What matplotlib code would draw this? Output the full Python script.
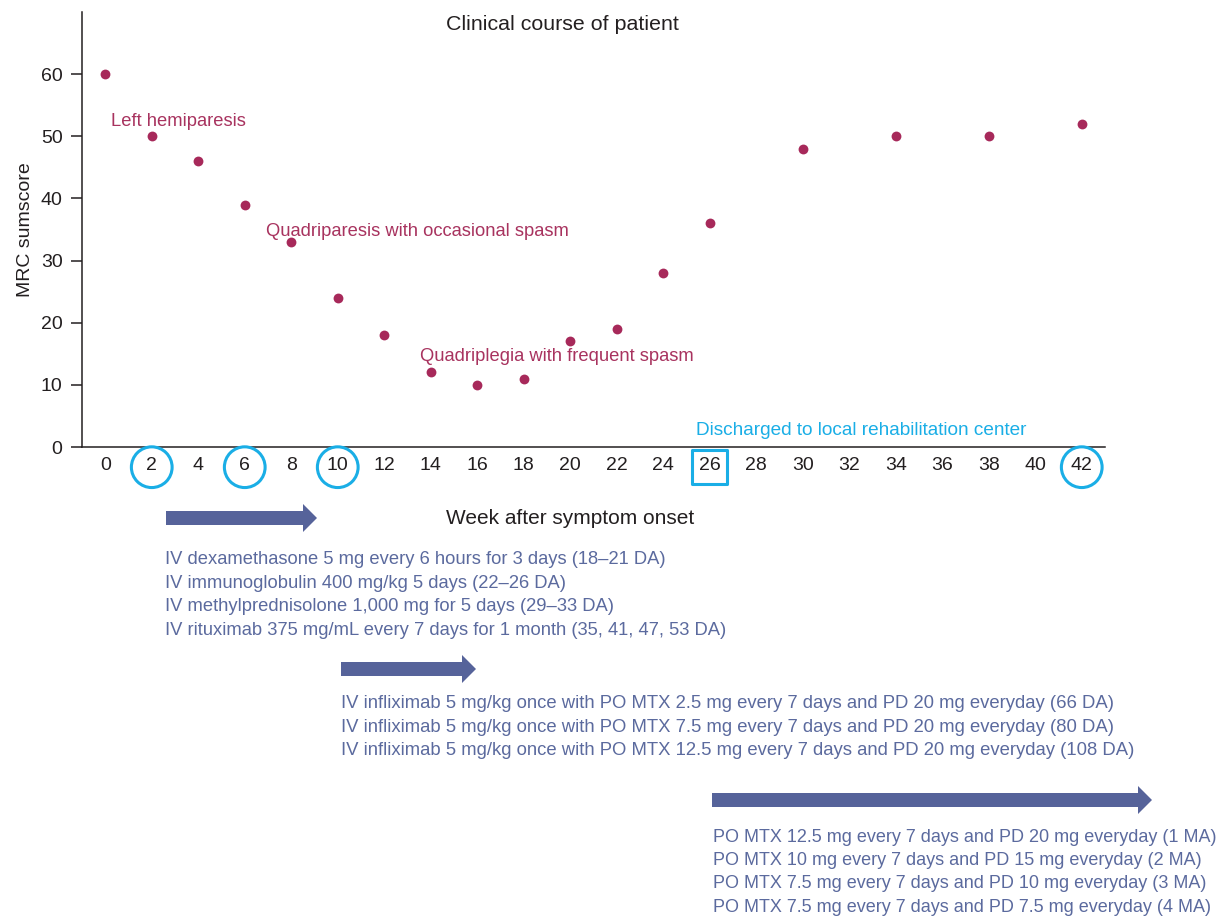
import matplotlib
matplotlib.use('Agg')
import matplotlib.pyplot as plt
from matplotlib.patches import FancyArrow

plt.rcParams['font.family'] = ['Liberation Sans', 'DejaVu Sans']

# ---- data ----
weeks = [0, 2, 4, 6, 8, 10, 12, 14, 16, 18, 20, 22, 24, 26, 30, 34, 38, 42]
mrc_scores = [60, 50, 46, 39, 33, 24, 18, 12, 10, 11, 17, 19, 28, 36, 48, 50, 50, 52]
x_ticks = list(range(0, 43, 2))
y_ticks = [0, 10, 20, 30, 40, 50, 60]
circled_weeks = [2, 6, 10, 42]
boxed_weeks = [26]

phase_labels = ["Left hemiparesis", "Quadriparesis with occasional spasm",
                "Quadriplegia with frequent spasm"]
phase_x = [0.25, 6.9, 13.55]
phase_y = [52.3, 34.6, 14.5]
discharge_label = "Discharged to local rehabilitation center"

treatment_block1 = [
    "IV dexamethasone 5 mg every 6 hours for 3 days (18\u201321 DA)",
    "IV immunoglobulin 400 mg/kg 5 days (22\u201326 DA)",
    "IV methylprednisolone 1,000 mg for 5 days (29\u201333 DA)",
    "IV rituximab 375 mg/mL every 7 days for 1 month (35, 41, 47, 53 DA)",
]
treatment_block2 = [
    "IV infliximab 5 mg/kg once with PO MTX 2.5 mg every 7 days and PD 20 mg everyday (66 DA)",
    "IV infliximab 5 mg/kg once with PO MTX 7.5 mg every 7 days and PD 20 mg everyday (80 DA)",
    "IV infliximab 5 mg/kg once with PO MTX 12.5 mg every 7 days and PD 20 mg everyday (108 DA)",
]
treatment_block3 = [
    "PO MTX 12.5 mg every 7 days and PD 20 mg everyday (1 MA)",
    "PO MTX 10 mg every 7 days and PD 15 mg everyday (2 MA)",
    "PO MTX 7.5 mg every 7 days and PD 10 mg everyday (3 MA)",
    "PO MTX 7.5 mg every 7 days and PD 7.5 mg everyday (4 MA)",
]

# ---- colours ----
DOT = '#A7295A'
ANN = '#A8335F'
CYAN = '#1AAEE6'
NAVY = '#56639A'
TXT = '#5B6A9E'
DARK = '#231F20'

fig = plt.figure(figsize=(12.25, 9.18), dpi=100)
fig.patch.set_facecolor('white')

# overlay axes in pixel coordinates for the treatment panel
ov = fig.add_axes([0, 0, 1, 1])
ov.set_xlim(0, 1225)
ov.set_ylim(918, 0)
ov.axis('off')

ax = fig.add_axes([82 / 1225, 1 - 447 / 918, (1105 - 82) / 1225, (447 - 12) / 918])
ax.set_facecolor('none')
ax.set_xlim(-1, 43)
ax.set_ylim(0, 70)

ax.scatter(weeks, mrc_scores, s=50, color=DOT, zorder=3, linewidths=0)

for sp in ['top', 'right']:
    ax.spines[sp].set_visible(False)
for sp in ['left', 'bottom']:
    ax.spines[sp].set_color(DARK)
    ax.spines[sp].set_linewidth(1.1)

ax.set_xticks(x_ticks)
ax.set_xticklabels([str(v) for v in x_ticks])
ax.set_yticks(y_ticks)
ax.tick_params(axis='x', length=0, pad=7, labelsize=14, labelcolor=DARK)
ax.tick_params(axis='y', length=8, width=1.1, color=DARK, pad=6, labelsize=14, labelcolor=DARK)

# highlighted tick labels
ax.scatter(circled_weeks, [-3.25] * len(circled_weeks), s=860, marker='o',
           facecolors='none', edgecolors=CYAN, linewidths=2.2, clip_on=False, zorder=4)
ax.scatter(boxed_weeks, [-3.25] * len(boxed_weeks), s=620, marker='s',
           facecolors='none', edgecolors=CYAN, linewidths=2.2, clip_on=False, zorder=4)

ax.set_ylabel('MRC sumscore', fontsize=14, color=DARK, labelpad=5)

for lab, xx, yy in zip(phase_labels, phase_x, phase_y):
    ax.text(xx, yy, lab, fontsize=13.2, color=ANN, ha='left', va='center')
ax.text(25.4, 2.6, discharge_label, fontsize=13.7, color=CYAN, ha='left', va='center')

# title and x label
ov.text(562, 24, 'Clinical course of patient', fontsize=15.4, color=DARK, ha='center', va='center')
ov.text(570, 519, 'Week after symptom onset', fontsize=15, color=DARK, ha='center', va='center')

# arrows
for (x0, x1, yy) in [(166, 317, 518), (341, 476, 669), (712, 1152, 800)]:
    ov.add_patch(FancyArrow(x0, yy, x1 - x0, 0, width=14, head_width=28, head_length=14,
                            length_includes_head=True, color=NAVY, linewidth=0))

def block(lines, x, y0, dy=23.4, size=13.2):
    for i, line in enumerate(lines):
        ov.text(x, y0 + i * dy, line, fontsize=size, color=TXT, ha='left', va='center')

block(treatment_block1, 165, 560)
block(treatment_block2, 341, 704, size=13.3)
block(treatment_block3, 713, 837, size=13.0)

fig.savefig('out.png', dpi=100)
